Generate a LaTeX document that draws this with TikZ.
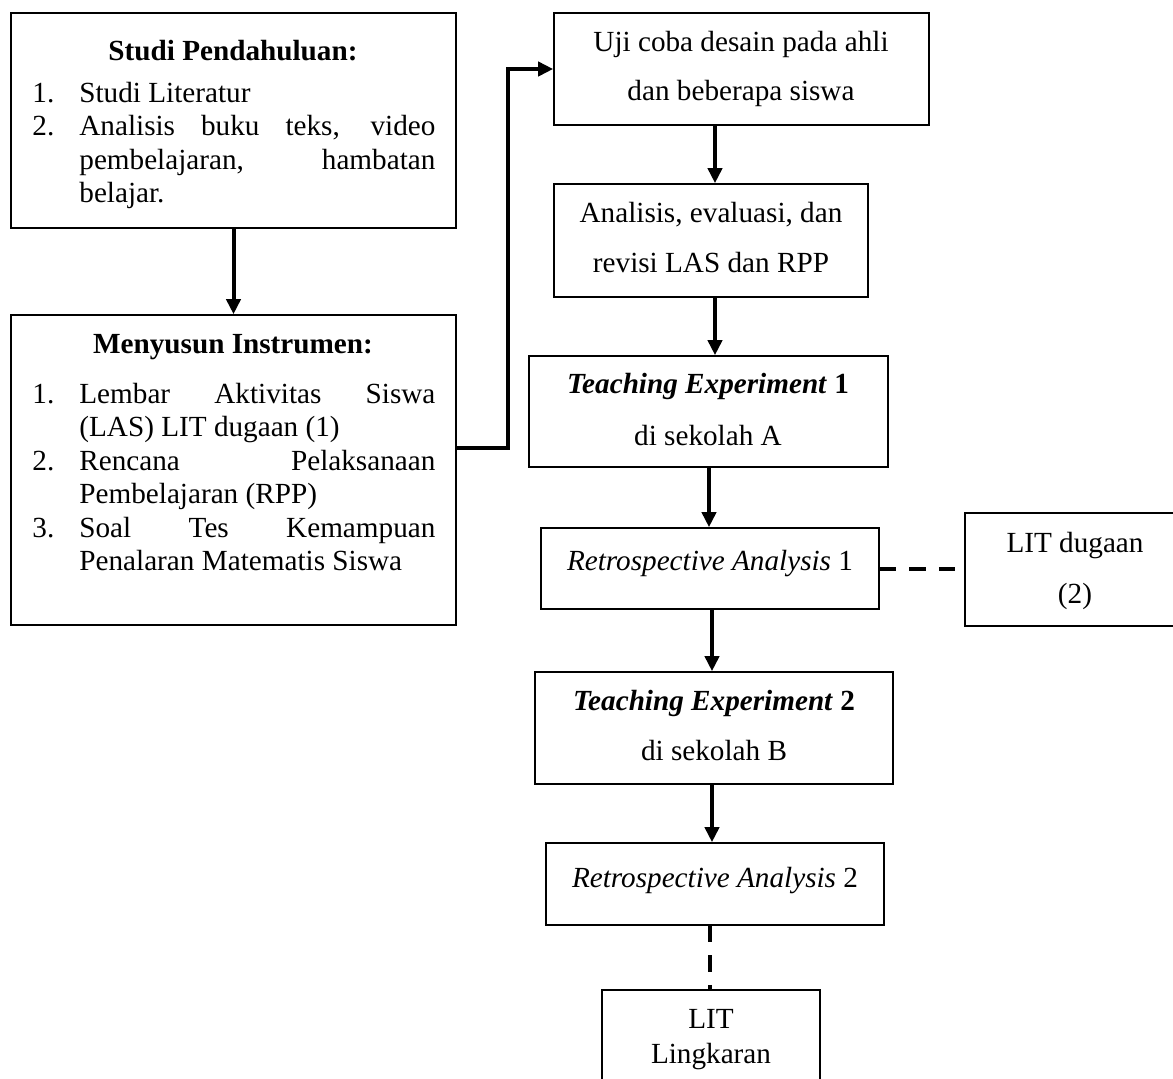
\documentclass[tikz,border=0pt]{standalone}
\usepackage{fontspec}
\setmainfont{Liberation Serif}
\usetikzlibrary{arrows.meta,fit}
\newcommand\fs{\fontsize{14.6}{16.8}\selectfont}
\newcommand\centerlines[2]{\vtop{\baselineskip=#1\relax\halign{\hfil##\hfil\cr#2\crcr}}}
\newcommand\numitem[2]{\hbox{\makebox[23.5pt][l]{#1}#2}}
\newcommand\contline[1]{\hbox{\hspace{23.5pt}#1}}
\begin{document}
\begin{tikzpicture}[x=0.5pt,y=-0.5pt,
  box/.style={draw, line width=0.8pt, inner sep=0pt},
  arr/.style={line width=2pt, -{Triangle[width=7pt,length=7.5pt]}},
  dashline/.style={line width=2pt, dash pattern=on 8.25pt off 6.5pt},
  txt/.style={inner sep=0pt, font=\fs}]
\useasboundingbox (0,0) rectangle (1173,1078);
\clip (0,0) rectangle (1173,1078);

% boxes
\node[box, fit={(11,13) (456,228)}] (A) {};
\node[box, fit={(11,315) (456,625)}] (B) {};
\node[box, fit={(554,13) (929,125)}] (C) {};
\node[box, fit={(554,184) (868,297)}] (D) {};
\node[box, fit={(529,356) (888,467)}] (E) {};
\node[box, fit={(541,528) (879,609)}] (F) {};
\node[box, fit={(965,513) (1186,626)}] (G) {};
\node[box, fit={(535,672) (893,784)}] (H) {};
\node[box, fit={(546,843) (884,925)}] (I) {};
\node[box, fit={(602,990) (820,1095)}] (J) {};

% texts, left column
\node[txt, anchor=base, font=\fs\bfseries] (Atitle) at (233,60) {Studi Pendahuluan:};
\node[txt, anchor=base west] (Alist) at (32,102) {\vtop{\baselineskip=16.75pt
  \numitem{1.}{Studi Literatur}
  \numitem{2.}{\makebox[178pt][s]{Analisis buku teks, video}}
  \contline{\makebox[178pt][s]{pembelajaran, hambatan}}
  \contline{belajar.}}};

\node[txt, anchor=base, font=\fs\bfseries] (Btitle) at (233,353) {Menyusun Instrumen:};
\node[txt, anchor=base west] (Blist) at (32,403) {\vtop{\baselineskip=16.75pt
  \numitem{1.}{\makebox[178pt][s]{Lembar Aktivitas Siswa}}
  \contline{(LAS) LIT dugaan (1)}
  \numitem{2.}{\makebox[178pt][s]{Rencana Pelaksanaan}}
  \contline{Pembelajaran (RPP)}
  \numitem{3.}{\makebox[178pt][s]{Soal Tes Kemampuan}}
  \contline{Penalaran Matematis Siswa}}};

% texts, right column
\node[txt, anchor=base] (Ct) at (741,51) {\centerlines{24.5pt}{Uji coba desain pada ahli\cr dan beberapa siswa}};
\node[txt, anchor=base] (Dt) at (711,222) {\centerlines{25pt}{Analisis, evaluasi, dan\cr revisi LAS dan RPP}};
\node[txt, anchor=base] (Et) at (708,393) {\centerlines{26pt}{\textbf{\textit{Teaching Experiment} 1}\cr di sekolah A}};
\node[txt, anchor=base] (Ft) at (710,570) {\textit{Retrospective Analysis} 1};
\node[txt, anchor=base] (Gt) at (1075,552) {\centerlines{25.5pt}{LIT dugaan\cr (2)}};
\node[txt, anchor=base] (Ht) at (714,710) {\centerlines{25pt}{\textbf{\textit{Teaching Experiment} 2}\cr di sekolah B}};
\node[txt, anchor=base] (It) at (715,887) {\textit{Retrospective Analysis} 2};
\node[txt, anchor=base] (Jt) at (711,1028) {\centerlines{17.5pt}{LIT\cr Lingkaran}};

% connectors
\draw[arr] (A.south) -- (B.north);
\draw[arr] (B.east |- 0,448) -- (508,448) |- (C.west);
\draw[arr] (C.south -| 715,0) -- (D.north -| 715,0);
\draw[arr] (D.south -| 715,0) -- (E.north -| 715,0);
\draw[arr] (E.south -| 709,0) -- (F.north -| 709,0);
\draw[dashline] (F.east) -- (G.west |- F.east);
\draw[arr] (F.south -| 712,0) -- (H.north -| 712,0);
\draw[arr] (H.south -| 712,0) -- (I.north -| 712,0);
\draw[dashline] (I.south -| 710,0) -- (J.north -| 710,0);
\end{tikzpicture}
\end{document}
